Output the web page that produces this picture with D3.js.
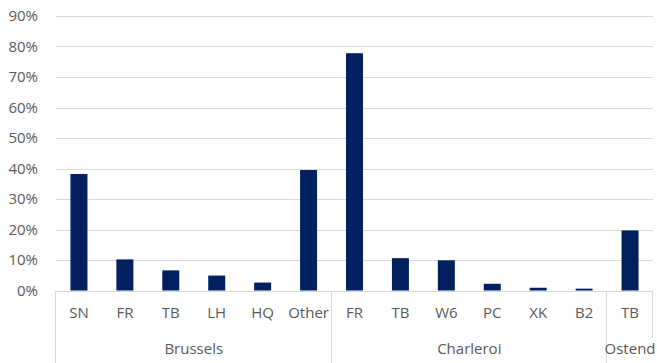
<!DOCTYPE html>
<html><head><meta charset="utf-8">
<script src="https://cdn.jsdelivr.net/npm/d3@7"></script>
<style>html,body{margin:0;padding:0;background:#fff;} text{font-family:"Open Sans",sans-serif;}</style>
</head><body>
<svg id="c" width="657" height="363"></svg>
<script>
const categories = ["SN","FR","TB","LH","HQ","Other","FR","TB","W6","PC","XK","B2","TB"];
const groups = ["Brussels","Brussels","Brussels","Brussels","Brussels","Brussels","Charleroi","Charleroi","Charleroi","Charleroi","Charleroi","Charleroi","Ostend"];
const values = [0.382,0.102,0.066,0.049,0.026,0.395,0.778,0.106,0.099,0.022,0.009,0.006,0.197];
const yTicks = [0,0.1,0.2,0.3,0.4,0.5,0.6,0.7,0.8,0.9];

(function(){
const svg = d3.select("#c");
const plotL = 56, plotR = 653, plotT = 16, base = 290.5;
const idx = categories.map((d,i)=>i);
const x = d3.scaleBand().domain(idx).range([plotL,plotR]).paddingInner(0.63).paddingOuter(0.315);
const xs = d3.scaleBand().domain(idx).range([plotL,plotR]);
const y = d3.scaleLinear().domain([0,0.9]).range([base, plotT]);

// gridlines
svg.append("g").selectAll("line").data(yTicks.slice(1)).join("line")
  .attr("x1",plotL).attr("x2",plotR).attr("y1",d=>Math.round(y(d))+0.5).attr("y2",d=>Math.round(y(d))+0.5)
  .attr("stroke","#d9d9d9").attr("stroke-width",1);

// y labels
const yAxis = d3.axisLeft(y).tickValues(yTicks).tickFormat(d3.format(".0%")).tickSize(0).tickPadding(0);
const ya = svg.append("g").attr("transform","translate(38,0)").call(yAxis);
ya.select(".domain").remove();
ya.selectAll("text").attr("fill","#595959").style("font-size","15px").style("font-family","'Open Sans',sans-serif");

// bars
svg.append("g").selectAll("rect").data(values).join("rect")
  .attr("x",(d,i)=>x(i)).attr("width",x.bandwidth())
  .attr("y",d=>y(d)).attr("height",d=>base-y(d))
  .attr("fill","#002060");

// x axis baseline
svg.append("line").attr("x1",plotL).attr("x2",plotR).attr("y1",291.5).attr("y2",291.5).attr("stroke","#d9d9d9").attr("stroke-width",1);

// category labels
const xAxis = d3.axisBottom(xs).tickFormat(i=>categories[i]).tickSize(0).tickPadding(0);
const xa = svg.append("g").attr("transform","translate(0,313)").call(xAxis);
xa.select(".domain").remove();
xa.selectAll("text").attr("dy","0.35em").attr("fill","#595959").style("font-size","15px").style("font-family","'Open Sans',sans-serif");

// group spans
const spans = [];
groups.forEach((g,i)=>{ if(!spans.length || spans[spans.length-1].name!==g) spans.push({name:g,start:i,end:i}); else spans[spans.length-1].end=i; });
const bounds = [plotL].concat(spans.map(s=>xs(s.end)+xs.bandwidth()));
svg.append("g").selectAll("line").data(bounds).join("line")
  .attr("x1",d=>Math.round(d)-0.5).attr("x2",d=>Math.round(d)-0.5)
  .attr("y1",291).attr("y2",(d,i)=>i===bounds.length-1?338:363)
  .attr("stroke","#d9d9d9").attr("stroke-width",1);
svg.append("g").selectAll("text").data(spans).join("text")
  .attr("x",s=>(xs(s.start)+xs(s.end)+xs.bandwidth())/2).attr("y",349).attr("dy","0.35em")
  .attr("text-anchor","middle").attr("fill","#595959").style("font-size","15px")
  .text(s=>s.name);
})();
</script>
</body></html>
